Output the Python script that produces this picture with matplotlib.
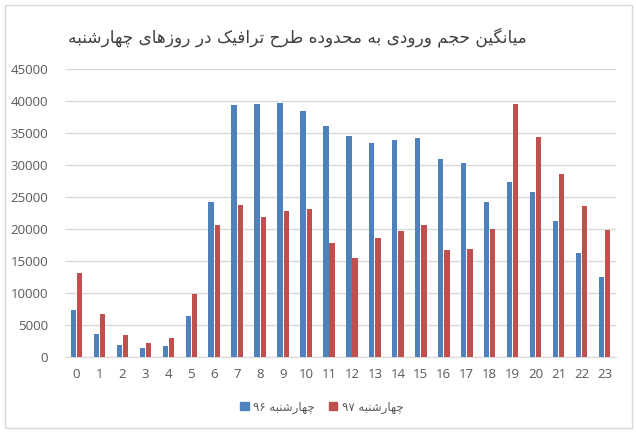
import numpy as np
import matplotlib
matplotlib.use("Agg")
import matplotlib.pyplot as plt
from matplotlib.patches import Rectangle, Patch

# Data (average entries per hour, Wednesdays)
hours = list(range(24))
vals_96 = [7300, 3600, 1800, 1300, 1700, 6300, 24100, 39300, 39400, 39600, 38300, 36000,
           34500, 33300, 33900, 34100, 30900, 30300, 24200, 27200, 25700, 21200, 16200, 12500]
vals_97 = [13100, 6600, 3400, 2200, 2900, 9800, 20500, 23700, 21800, 22800, 23000, 17700,
           15400, 18500, 19700, 20600, 16700, 16800, 20000, 39400, 34300, 28600, 23600, 19800]
yticks = list(range(0, 45001, 5000))

title_text = "میانگین حجم ورودی به محدوده طرح ترافیک در روزهای چهارشنبه"
label_96 = "چهارشنبه ۹۶"
label_97 = "چهارشنبه ۹۷"

# Arabic/Persian contextual forms: isolated, final, initial, medial
FORMS = {
    "ا": ("\uFE8D", "\uFE8E", None, None),
    "ب": ("\uFE8F", "\uFE90", "\uFE91", "\uFE92"),
    "ت": ("\uFE95", "\uFE96", "\uFE97", "\uFE98"),
    "ج": ("\uFE9D", "\uFE9E", "\uFE9F", "\uFEA0"),
    "ح": ("\uFEA1", "\uFEA2", "\uFEA3", "\uFEA4"),
    "د": ("\uFEA9", "\uFEAA", None, None),
    "ر": ("\uFEAD", "\uFEAE", None, None),
    "ز": ("\uFEAF", "\uFEB0", None, None),
    "ش": ("\uFEB5", "\uFEB6", "\uFEB7", "\uFEB8"),
    "ط": ("\uFEC1", "\uFEC2", "\uFEC3", "\uFEC4"),
    "ف": ("\uFED1", "\uFED2", "\uFED3", "\uFED4"),
    "م": ("\uFEE1", "\uFEE2", "\uFEE3", "\uFEE4"),
    "ن": ("\uFEE5", "\uFEE6", "\uFEE7", "\uFEE8"),
    "ه": ("\uFEE9", "\uFEEA", "\uFEEB", "\uFEEC"),
    "و": ("\uFEED", "\uFEEE", None, None),
    "ی": ("\uFBFC", "\uFBFD", "\uFBFE", "\uFBFF"),
    "ک": ("\uFB8E", "\uFB8F", "\uFB90", "\uFB91"),
    "گ": ("\uFB92", "\uFB93", "\uFB94", "\uFB95"),
    "چ": ("\uFB7A", "\uFB7B", "\uFB7C", "\uFB7D"),
}


def shape_word(word):
    out = []
    for i, ch in enumerate(word):
        if ch not in FORMS:
            out.append(ch)
            continue
        prev = word[i - 1] if i > 0 else None
        nxt = word[i + 1] if i + 1 < len(word) else None
        join_prev = prev in FORMS and FORMS[prev][2] is not None
        join_next = FORMS[ch][2] is not None and nxt in FORMS
        iso, fin, ini, med = FORMS[ch]
        if join_prev and join_next:
            out.append(med)
        elif join_prev:
            out.append(fin)
        elif join_next:
            out.append(ini)
        else:
            out.append(iso)
    return "".join(out)


def rtl(text):
    words = []
    for w in text.split(" "):
        if any(c in FORMS for c in w):
            words.append(shape_word(w)[::-1])
        else:
            words.append(w)
    return " ".join(words[::-1])


blue = "#4F81BD"
red = "#C0504D"
grid_c = "#D9D9D9"
text_c = "#595959"

fig = plt.figure(figsize=(6.36, 4.34), dpi=100)
ax = fig.add_axes([65 / 636, 1 - 356.7 / 434, 551 / 636, (356.7 - 68.5) / 434])

x = np.arange(len(hours))
w = 0.23
ax.bar(x - 0.135, vals_96, width=w, color=blue, zorder=3)
ax.bar(x + 0.135, vals_97, width=w, color=red, zorder=3)

ax.set_xlim(-0.5, 23.5)
ax.set_ylim(0, 45000)
ax.set_yticks(yticks)
ax.set_xticks(x)
ax.set_xticklabels([str(h) for h in hours])
ax.yaxis.grid(True, color=grid_c, linewidth=1, zorder=0)
for s in ["top", "right", "left"]:
    ax.spines[s].set_visible(False)
ax.spines["bottom"].set_color(grid_c)
ax.tick_params(axis="both", length=0, colors=text_c, labelsize=9.5)
ax.tick_params(axis="y", pad=12)
ax.tick_params(axis="x", pad=8)
for lab in ax.get_xticklabels() + ax.get_yticklabels():
    lab.set_family("Open Sans")

fig.text(297 / 636, 1 - 37 / 434, rtl(title_text), ha="center", va="center",
         fontsize=12.2, color="#404040", family="DejaVu Sans")

handles = [Patch(color=blue, label=rtl(label_96)), Patch(color=red, label=rtl(label_97))]
fig.legend(handles=handles, loc="center", bbox_to_anchor=(322 / 636, 1 - 407 / 434),
           ncol=2, frameon=False, fontsize=8.5, handlelength=0.7, handleheight=0.7,
           handletextpad=0.4, columnspacing=1.2, labelcolor=text_c)

fig.patches.append(Rectangle((5 / 636, 1 - 428 / 434), 627 / 636, 423 / 434,
                             transform=fig.transFigure, fill=False,
                             edgecolor=grid_c, linewidth=1))

fig.savefig("out.png", dpi=100)
